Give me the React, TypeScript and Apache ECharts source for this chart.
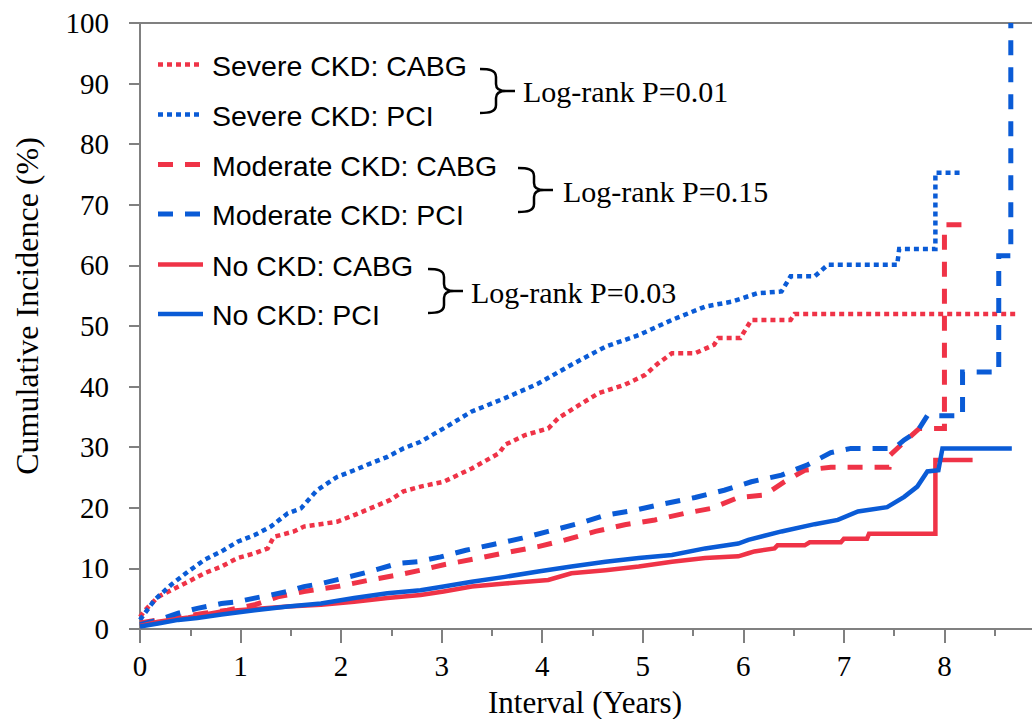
import React, { useEffect, useRef } from "react";
import * as echarts from "echarts";

const RED = "#EF3347";
const BLUE = "#0A5BD6";
const SERIF = "Liberation Serif";
const SANS = "Liberation Sans";

const xTicks = [0, 1, 2, 3, 4, 5, 6, 7, 8];
const yTicks = [0, 10, 20, 30, 40, 50, 60, 70, 80, 90, 100];

const seriesNames = [
  "Severe CKD: CABG",
  "Severe CKD: PCI",
  "Moderate CKD: CABG",
  "Moderate CKD: PCI",
  "No CKD: CABG",
  "No CKD: PCI",
];

const pValues = ["Log-rank P=0.01", "Log-rank P=0.15", "Log-rank P=0.03"];

const severeCabg = [
  [0, 2.0], [0.05, 3.1], [0.18, 5.3], [0.31, 6.4], [0.48, 7.8], [0.64, 9.2], [0.81, 10.3], [0.97, 11.7],
  [1.14, 12.5], [1.27, 13.3], [1.33, 15.2], [1.53, 16.1], [1.63, 16.9], [1.96, 17.7], [2.13, 18.8],
  [2.29, 19.9], [2.49, 21.3], [2.62, 22.7], [2.79, 23.5], [3.02, 24.3], [3.3, 26.5], [3.57, 29.0],
  [3.63, 30.4], [3.83, 32.0], [4.06, 33.1], [4.16, 34.8], [4.39, 37.2], [4.56, 38.9], [4.82, 40.3],
  [5.02, 41.9], [5.15, 43.8], [5.29, 45.5], [5.52, 45.5], [5.71, 46.9], [5.75, 48.0], [5.97, 48.0],
  [6.08, 51.0], [6.47, 51.0], [6.51, 52.0], [8.72, 52.0],
];

const severePci = [
  [0, 1.5], [0.145, 4.8], [0.31, 7.3], [0.48, 9.5], [0.64, 11.4], [0.81, 12.8], [0.97, 14.4],
  [1.14, 15.5], [1.3, 16.9], [1.47, 19.1], [1.6, 19.9], [1.76, 22.9], [1.96, 25.1], [2.13, 26.2],
  [2.29, 27.3], [2.46, 28.4], [2.62, 29.8], [2.79, 30.9], [3.02, 33.1], [3.3, 35.9], [3.63, 38.1],
  [3.96, 40.5], [4.29, 43.6], [4.63, 46.6], [4.96, 48.5], [5.29, 51.0], [5.62, 53.2], [5.88, 54.0],
  [6.14, 55.4], [6.38, 55.7], [6.47, 58.2], [6.71, 58.2], [6.84, 60.1], [7.53, 60.1], [7.55, 62.7],
  [7.91, 62.7], [7.91, 75.3], [8.18, 75.3],
];

const moderateCabg = [
  [0, 1.0], [0.18, 1.5], [0.41, 2.0], [0.64, 2.6], [0.87, 3.1], [1.14, 4.0], [1.37, 5.3], [1.63, 6.2],
  [1.96, 7.0], [2.29, 8.1], [2.56, 8.9], [2.79, 9.7], [3.02, 10.6], [3.37, 11.7], [3.7, 12.8],
  [3.96, 13.6], [4.23, 14.7], [4.53, 16.1], [4.82, 17.2], [5.12, 18.0], [5.42, 19.1], [5.68, 19.9],
  [5.95, 21.7], [6.21, 22.1], [6.41, 24.3], [6.61, 26.2], [6.87, 26.7], [7.45, 26.7], [7.46, 28.7],
  [7.57, 30.4], [7.75, 33.1], [8.0, 33.1], [8.0, 66.7], [8.18, 66.7],
];

const moderatePci = [
  [0, 0.7], [0.18, 1.5], [0.38, 2.6], [0.57, 3.4], [0.81, 4.2], [0.97, 4.5], [1.14, 5.1], [1.3, 5.6],
  [1.47, 6.2], [1.63, 7.0], [1.8, 7.5], [2.03, 8.4], [2.29, 9.5], [2.56, 10.8], [2.76, 11.1],
  [2.99, 11.9], [3.24, 13.0], [3.5, 13.9], [3.8, 15.0], [4.06, 16.1], [4.36, 17.4], [4.63, 18.8],
  [4.92, 19.6], [5.22, 20.7], [5.52, 21.7], [5.81, 22.9], [6.08, 24.3], [6.38, 25.4], [6.64, 27.1],
  [6.87, 29.1], [7.07, 29.8], [7.5, 29.8], [7.6, 31.2], [7.73, 32.6], [7.83, 35.2], [8.18, 35.2],
  [8.18, 42.4], [8.54, 42.4], [8.54, 61.6], [8.66, 61.6], [8.66, 100],
];

const noCkdCabg = [
  [0, 0.5], [0.18, 1.2], [0.48, 1.9], [0.81, 2.9], [1.14, 3.3], [1.47, 3.7], [1.8, 4.0], [2.13, 4.5],
  [2.46, 5.1], [2.79, 5.6], [3.02, 6.2], [3.3, 7.0], [3.63, 7.5], [4.06, 8.1], [4.29, 9.2],
  [4.63, 9.7], [4.96, 10.3], [5.29, 11.1], [5.62, 11.7], [5.95, 12.0], [6.05, 12.5], [6.11, 12.8],
  [6.31, 13.3], [6.34, 13.8], [6.61, 13.8], [6.66, 14.3], [6.97, 14.3], [7.0, 14.9], [7.23, 14.9],
  [7.25, 15.7], [7.91, 15.7], [7.91, 27.9], [8.28, 27.9],
];

const noCkdPci = [
  [0, 0.4], [0.18, 0.9], [0.38, 1.5], [0.57, 1.8], [0.81, 2.4], [1.14, 3.1], [1.47, 3.7], [1.8, 4.2],
  [2.13, 5.1], [2.46, 5.9], [2.79, 6.4], [3.02, 7.0], [3.3, 7.8], [3.63, 8.6], [3.96, 9.5],
  [4.29, 10.3], [4.63, 11.1], [4.96, 11.7], [5.29, 12.2], [5.62, 13.3], [5.95, 14.1], [6.05, 14.7],
  [6.38, 16.1], [6.71, 17.3], [6.94, 18.0], [7.14, 19.4], [7.43, 20.1], [7.6, 21.8], [7.73, 23.5],
  [7.83, 26.0], [7.94, 26.2], [7.98, 29.8], [8.67, 29.8],
];

const seriesData = [severeCabg, severePci, moderateCabg, moderatePci, noCkdCabg, noCkdPci];
const seriesColors = [RED, BLUE, RED, BLUE, RED, BLUE];
const DOT = [5, 4];
const DASH = [15, 12];
const seriesDash: any[] = [DOT, DOT, DASH, DASH, "solid", "solid"];
const seriesWidth = [4.5, 4.5, 5, 5, 4.5, 4.5];

const bracePath =
  "M0,0 C9,0 16,1 16,8 L16,15 C16,20 19,22 26,22 L35,22 M26,22 C19,22 16,24 16,29 L16,36 C16,43 9,44 0,44";
let braceRegistered = false;
function ensureBrace() {
  if (braceRegistered) return;
  echarts.graphic.registerShape("brace", echarts.graphic.extendPath(bracePath, {}) as any);
  braceRegistered = true;
}

export default function App() {
  const ref = useRef<HTMLDivElement>(null);
  useEffect(() => {
    if (!ref.current) return;
    ensureBrace();
    const chart = echarts.init(ref.current, undefined, { renderer: "svg" });
    const gray = "#808080";

    const legendRows = [64.5, 114.5, 164.5, 214, 264.5, 314];
    const graphics: any[] = [];
    seriesNames.forEach((name, i) => {
      const y = legendRows[i];
      const dash = seriesDash[i];
      graphics.push({
        type: "line",
        shape: { x1: 158, y1: y, x2: i < 2 ? 199 : 203, y2: y },
        style: {
          stroke: seriesColors[i],
          lineWidth: seriesWidth[i],
          lineDash: dash === "solid" ? null : dash,
        },
      });
      graphics.push({
        type: "text",
        x: 212,
        y: y + 1,
        style: {
          text: name,
          fontFamily: SANS,
          fontSize: 28.5,
          fill: "#000",
          align: "left",
          verticalAlign: "middle",
        },
      });
    });
    const braces = [
      { x: 480, y: 69, tx: 523, ty: 91 },
      { x: 518, y: 168, tx: 563, ty: 191 },
      { x: 428, y: 269, tx: 471, ty: 292 },
    ];
    braces.forEach((b, i) => {
      graphics.push({
        type: "brace",
        x: b.x,
        y: b.y,
        style: { stroke: "#000", fill: null, lineWidth: 2.5 },
      });
      graphics.push({
        type: "text",
        x: b.tx,
        y: b.ty,
        style: {
          text: pValues[i],
          fontFamily: SERIF,
          fontSize: 30,
          fill: "#000",
          align: "left",
          verticalAlign: "middle",
        },
      });
    });
    graphics.push({
      type: "text",
      x: 585,
      y: 702,
      style: {
        text: "Interval (Years)",
        fontFamily: SERIF,
        fontSize: 31,
        fill: "#000",
        align: "center",
        verticalAlign: "middle",
      },
    });
    graphics.push({
      type: "text",
      x: 27,
      y: 306,
      rotation: Math.PI / 2,
      style: {
        text: "Cumulative Incidence (%)",
        fontFamily: SERIF,
        fontSize: 32,
        fill: "#000",
        align: "center",
        verticalAlign: "middle",
      },
    });

    const rich = {
      t: { fontFamily: SERIF, fontSize: 29, color: "#000", fontWeight: "normal" },
    };

    chart.setOption({
      animation: false,
      textStyle: { fontFamily: SERIF },
      grid: {
        left: 140,
        right: 0,
        top: 23,
        bottom: 90,
        show: true,
        borderColor: gray,
        borderWidth: 2,
        containLabel: false,
      },
      xAxis: {
        type: "value",
        min: 0,
        max: 9,
        interval: 1,
        axisLine: { show: true, onZero: false, lineStyle: { color: gray, width: 2 } },
        axisTick: { show: true, length: 14, lineStyle: { color: gray, width: 2 } },
        minorTick: { show: true, splitNumber: 2, length: 7, lineStyle: { color: gray, width: 2 } },
        splitLine: { show: false },
        axisLabel: {
          margin: 22,
          color: "#000",
          fontFamily: SERIF,
          fontSize: 29,
          rich,
          formatter: (v: number) => (xTicks.indexOf(v) >= 0 ? `{t|${v}}` : ""),
        },
      },
      yAxis: {
        type: "value",
        min: 0,
        max: 100,
        interval: 10,
        axisLine: { show: true, lineStyle: { color: gray, width: 2 } },
        axisTick: { show: true, length: 11, lineStyle: { color: gray, width: 2 } },
        splitLine: { show: false },
        axisLabel: {
          margin: 31,
          color: "#000",
          fontFamily: SERIF,
          fontSize: 29,
          rich,
          formatter: (v: number) => (yTicks.indexOf(v) >= 0 ? `{t|${v}}` : ""),
        },
      },
      graphic: graphics,
      series: seriesNames.map((name, i) => ({
        name,
        type: "line",
        data: seriesData[i],
        showSymbol: false,
        symbol: "none",
        clip: true,
        lineStyle: {
          color: seriesColors[i],
          width: seriesWidth[i],
          type: seriesDash[i],
          cap: "butt",
          join: "miter",
        },
        itemStyle: { color: seriesColors[i] },
      })),
    });
    return () => chart.dispose();
  }, []);

  return (
    <div
      style={{
        position: "fixed",
        left: 0,
        top: 0,
        width: 1032,
        height: 719,
        overflow: "hidden",
        background: "#fff",
      }}
    >
      <div ref={ref} style={{ width: 1048, height: 719 }} />
    </div>
  );
}
